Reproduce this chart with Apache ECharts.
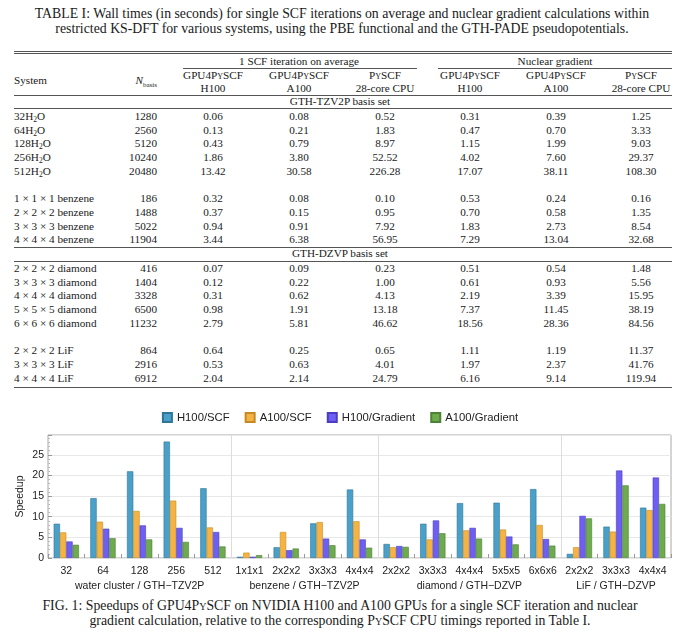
<!DOCTYPE html>
<html>
<head>
<meta charset="utf-8">
<script src="https://cdn.jsdelivr.net/npm/echarts@6/dist/echarts.min.js"></script>
<style>
html, body { margin: 0; padding: 0; background: #fff; }
#page { position: relative; width: 680px; height: 643px; overflow: hidden;
        font-family: "Liberation Serif", "DejaVu Serif", serif; color: #1a1a1a; }
.t { position: absolute; white-space: nowrap; line-height: 1; }
.rule { position: absolute; height: 1px; background: #555; }
.sc { font-variant: small-caps; }
#chart { position: absolute; left: 0; top: 398px; width: 680px; height: 200px; }
</style>
</head>
<body>
<div id="page"><div id="chart"></div></div>
<script>
// ---- table data ----
var PY = 'P<span class="sc">y</span>SCF';
var systems = [
  '32H<sub>2</sub>O', '64H<sub>2</sub>O', '128H<sub>2</sub>O', '256H<sub>2</sub>O', '512H<sub>2</sub>O',
  '1 × 1 × 1 benzene', '2 × 2 × 2 benzene', '3 × 3 × 3 benzene', '4 × 4 × 4 benzene',
  '2 × 2 × 2 diamond', '3 × 3 × 3 diamond', '4 × 4 × 4 diamond', '5 × 5 × 5 diamond', '6 × 6 × 6 diamond',
  '2 × 2 × 2 LiF', '3 × 3 × 3 LiF', '4 × 4 × 4 LiF'
];
var nBasis = ['1280', '2560', '5120', '10240', '20480', '186', '1488', '5022', '11904',
  '416', '1404', '3328', '6500', '11232', '864', '2916', '6912'];
var scfH100 = ['0.06', '0.13', '0.43', '1.86', '13.42', '0.32', '0.37', '0.94', '3.44',
  '0.07', '0.12', '0.31', '0.98', '2.79', '0.64', '0.53', '2.04'];
var scfA100 = ['0.08', '0.21', '0.79', '3.80', '30.58', '0.08', '0.15', '0.91', '6.38',
  '0.09', '0.22', '0.62', '1.91', '5.81', '0.25', '0.63', '2.14'];
var scfCPU = ['0.52', '1.83', '8.97', '52.52', '226.28', '0.10', '0.95', '7.92', '56.95',
  '0.23', '1.00', '4.13', '13.18', '46.62', '0.65', '4.01', '24.79'];
var gradH100 = ['0.31', '0.47', '1.15', '4.02', '17.07', '0.53', '0.70', '1.83', '7.29',
  '0.51', '0.61', '2.19', '7.37', '18.56', '1.11', '1.97', '6.16'];
var gradA100 = ['0.39', '0.70', '1.99', '7.60', '38.11', '0.24', '0.58', '2.73', '13.04',
  '0.54', '0.93', '3.39', '11.45', '28.36', '1.19', '2.37', '9.14'];
var gradCPU = ['1.25', '3.33', '9.03', '29.37', '108.30', '0.16', '1.35', '8.54', '32.68',
  '1.48', '5.56', '15.95', '38.19', '84.56', '11.37', '41.76', '119.94'];

// ---- chart data (speedups) ----
var categories = ['32', '64', '128', '256', '512', '1x1x1', '2x2x2', '3x3x3', '4x4x4',
  '2x2x2', '3x3x3', '4x4x4', '5x5x5', '6x6x6', '2x2x2', '3x3x3', '4x4x4'];
var groupNames = ['water cluster / GTH−TZV2P', 'benzene / GTH−TZV2P', 'diamond / GTH−DZVP', 'LiF / GTH−DZVP'];
var groupSizes = [5, 4, 5, 3];
var seriesNames = ['H100/SCF', 'A100/SCF', 'H100/Gradient', 'A100/Gradient'];
var h100Scf = [8.3, 14.5, 21.0, 28.2, 16.9, 0.3, 2.6, 8.4, 16.6, 3.4, 8.3, 13.3, 13.4, 16.7, 1.0, 7.6, 12.2];
var a100Scf = [6.2, 8.8, 11.4, 13.9, 7.4, 1.3, 6.3, 8.7, 8.9, 2.6, 4.5, 6.7, 6.9, 8.0, 2.6, 6.4, 11.6];
var h100Grad = [4.0, 7.1, 7.9, 7.3, 6.3, 0.3, 1.9, 4.7, 4.5, 2.9, 9.1, 7.3, 5.2, 4.6, 10.2, 21.2, 19.5];
var a100Grad = [3.2, 4.8, 4.5, 3.9, 2.8, 0.7, 2.3, 3.1, 2.5, 2.7, 6.0, 4.7, 3.3, 3.0, 9.6, 17.6, 13.1];
var colors = ['#4aa0c8', '#f5b343', '#6d5ff2', '#6dab4e'];
var edges = ['#2f7597', '#c48a24', '#4a3dc0', '#4d8234'];

// ---- page text / table ----
var page = document.getElementById('page');
function txt(html, x, y, align, size, extra) {
  var d = document.createElement('div');
  d.className = 't';
  d.innerHTML = html;
  d.style.left = x + 'px';
  d.style.top = y + 'px';
  d.style.fontSize = size + 'px';
  var tx = align === 'center' ? '-50%' : (align === 'right' ? '-100%' : '0');
  d.style.transform = 'translate(' + tx + ',-50%)';
  if (extra) d.style.cssText += extra;
  page.appendChild(d);
}
function rule(x1, x2, y) {
  var d = document.createElement('div');
  d.className = 'rule';
  d.style.left = x1 + 'px';
  d.style.width = (x2 - x1) + 'px';
  d.style.top = y + 'px';
  page.appendChild(d);
}

var CAP = 13.8;
txt('TABLE I: Wall times (in seconds) for single SCF iterations on average and nuclear gradient calculations within', 342, 14, 'center', CAP);
txt('restricted KS-DFT for various systems, using the PBE functional and the GTH-PADE pseudopotentials.', 342, 29, 'center', CAP);

var L = 14, R = 672, FS = 11.2;
rule(L, R, 50.5);
rule(L, R, 53);
txt('1 SCF iteration on average', 299, 61.5, 'center', FS);
txt('Nuclear gradient', 555, 61.5, 'center', FS);
rule(183, 417, 67.5);
rule(438, R, 67.5);
txt('System', L, 81, 'left', FS);
txt('<i>N</i><sub style="font-size:7px">basis</sub>', 157, 82, 'right', FS);
var colX = [213, 299, 385, 470, 556, 641];
var head1 = ['GPU4' + PY, 'GPU4' + PY, PY, 'GPU4' + PY, 'GPU4' + PY, PY];
var head2 = ['H100', 'A100', '28-core CPU', 'H100', 'A100', '28-core CPU'];
colX.forEach(function (x, i) {
  txt(head1[i], x, 75.5, 'center', FS);
  txt(head2[i], x, 88.5, 'center', FS);
});
rule(L, R, 95);
txt('GTH-TZV2P basis set', 340, 102, 'center', FS);
rule(L, R, 108);
rule(L, R, 246.5);
txt('GTH-DZVP basis set', 340, 254, 'center', FS);
rule(L, R, 261);
rule(L, R, 386.5);

var blockStart = [117, 199.2, 269, 351.2];
var pitch = 13.7;
var cols = [scfH100, scfA100, scfCPU, gradH100, gradA100, gradCPU];
var idx = 0;
groupSizes.forEach(function (n, g) {
  for (var k = 0; k < n; k++) {
    var y = blockStart[g] + k * pitch;
    txt(systems[idx].replace(/<sub>/g, '<sub style="font-size:7.5px;vertical-align:-2px">'), L, y, 'left', FS);
    txt(nBasis[idx], 157, y, 'right', FS);
    for (var c = 0; c < cols.length; c++) txt(cols[c][idx], colX[c], y, 'center', FS);
    idx++;
  }
});

txt('FIG. 1: Speedups of GPU4' + PY + ' on NVIDIA H100 and A100 GPUs for a single SCF iteration and nuclear', 340, 606, 'center', CAP);
txt('gradient calculation, relative to the corresponding ' + PY + ' CPU timings reported in Table I.', 340, 621, 'center', CAP);

// ---- chart ----
var groupLabel = {};
var boundaries = [];
var acc = 0;
groupSizes.forEach(function (n, g) {
  groupLabel[acc + n / 2] = groupNames[g];
  acc += n;
  if (acc < categories.length) boundaries.push({ xAxis: acc });
});

var values = [h100Scf, a100Scf, h100Grad, a100Grad];
var series = seriesNames.map(function (name, i) {
  return {
    name: name,
    type: 'bar',
    data: values[i],
    barGap: '0%',
    barCategoryGap: '31%',
    itemStyle: { color: colors[i], borderColor: edges[i], borderWidth: 0.6 }
  };
});
series.push({
  type: 'scatter',
  xAxisIndex: 1,
  data: [],
  silent: true,
  markLine: {
    silent: true,
    symbol: 'none',
    label: { show: false },
    lineStyle: { color: '#dcdcdc', type: 'solid', width: 1 },
    data: boundaries
  }
});

var myChart = echarts.init(document.getElementById('chart'));
var option = {
  animation: false,
  textStyle: { fontFamily: 'Liberation Sans, Arial, sans-serif' },
  legend: {
    data: seriesNames,
    top: 9,
    left: 'center',
    icon: 'rect',
    itemWidth: 9,
    itemHeight: 9,
    itemGap: 15,
    textStyle: { fontSize: 11.3, color: '#222' }
  },
  grid: { left: 48, right: 9, top: 37, bottom: 40, show: true, borderColor: '#a8a8a8', borderWidth: 1 },
  xAxis: [{
    type: 'category',
    data: categories,
    axisLine: { show: false },
    axisTick: { show: true, inside: true, length: 4, interval: 0, lineStyle: { color: '#999' } },
    axisLabel: { interval: 0, fontSize: 10.5, color: '#222', margin: 8 }
  }, {
    type: 'value',
    min: 0,
    max: categories.length,
    interval: 0.5,
    position: 'bottom',
    offset: 15,
    axisLine: { show: false },
    axisTick: { show: false },
    splitLine: { show: false },
    axisLabel: {
      fontSize: 10.5, color: '#222', margin: 8,
      formatter: function (v) { return groupLabel[v] || ''; }
    }
  }],
  yAxis: {
    type: 'value',
    min: 0,
    max: 29.8,
    interval: 5,
    name: 'Speedup',
    nameLocation: 'middle',
    nameGap: 22,
    nameMoveOverlap: false,
    nameTextStyle: { fontSize: 10.5, color: '#222' },
    axisLine: { show: false },
    axisTick: { show: true, inside: true, length: 4, lineStyle: { color: '#999' } },
    minorTick: { show: true, splitNumber: 5, length: 2, lineStyle: { color: '#bbb' } },
    axisLabel: { fontSize: 10.5, color: '#222', margin: 4, showMaxLabel: false },
    splitLine: { lineStyle: { color: '#e8e8e8' } }
  },
  series: series
};
myChart.setOption(option);
window.addEventListener('resize', function () {
  myChart.resize();
});
</script>
</body>
</html>
